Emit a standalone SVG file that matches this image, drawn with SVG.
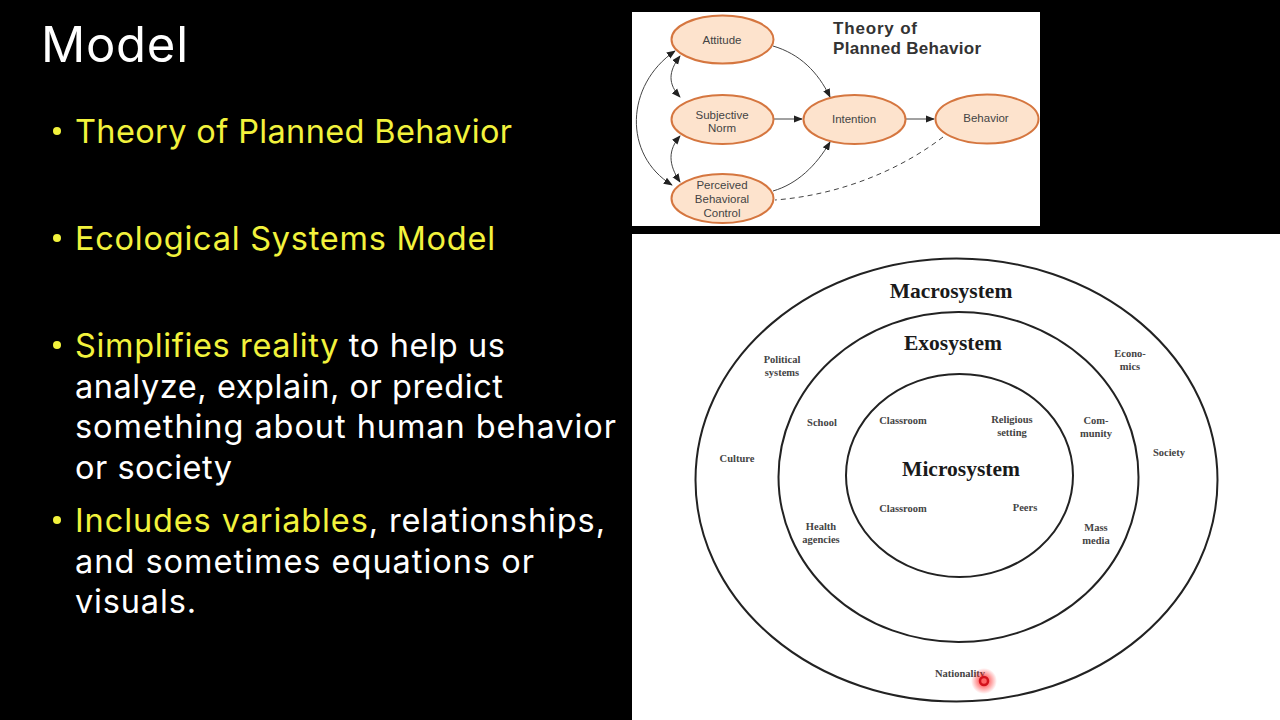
<svg xmlns="http://www.w3.org/2000/svg" width="1280" height="720" viewBox="0 0 1280 720">
<style>
.s{font-family:"Inter","Noto Sans",sans-serif;font-size:32.5px;fill:#fff}
.y{fill:#f2f23c}
.n{fill:#fde3cd;stroke:#d5763f;stroke-width:2}
.t{font-family:"Liberation Sans",Arial,sans-serif;font-size:11.5px;fill:#444;text-anchor:middle}
.c{fill:none;stroke:#444;stroke-width:1}
.r{fill:none;stroke:#222;stroke-width:2}
.e{font-family:"Liberation Serif","Times New Roman",serif;font-size:10.5px;fill:#444;text-anchor:middle;font-weight:bold}
.h{font-family:"Liberation Serif","Times New Roman",serif;font-size:21.5px;fill:#1a1a1a;text-anchor:middle;font-weight:bold}
</style>
<defs>
<marker id="a" viewBox="0 0 10 10" refX="9" refY="5" markerWidth="9" markerHeight="9" markerUnits="userSpaceOnUse" orient="auto-start-reverse"><path d="M0 1L10 5L0 9z" fill="#222"/></marker>
<radialGradient id="g"><stop offset="0.3" stop-color="#f22" stop-opacity=".7"/><stop offset="1" stop-color="#f22" stop-opacity="0"/></radialGradient>
</defs>
<rect width="1280" height="720" fill="#000"/>
<g id="slide-text">
<text x="41" y="62" font-family="Inter,Noto Sans,sans-serif" font-size="49" fill="#fff" textLength="147">Model</text>
<g fill="#f2f23c"><circle cx="57" cy="131" r="4"/><circle cx="57" cy="238" r="4"/><circle cx="57" cy="345" r="4"/><circle cx="57" cy="520" r="4"/></g>
<g class="s">
<text x="75" y="143" class="y" textLength="437">Theory of Planned Behavior</text>
<text x="75" y="250" class="y" textLength="420">Ecological Systems Model</text>
<text x="75" y="357" textLength="430"><tspan class="y">Simplifies reality</tspan> to help us</text>
<text x="75" y="398" textLength="428">analyze, explain, or predict</text>
<text x="75" y="438" textLength="541">something about human behavior</text>
<text x="75" y="479" textLength="157">or society</text>
<text x="75" y="532" textLength="530"><tspan class="y">Includes variables</tspan>, relationships,</text>
<text x="75" y="573" textLength="459">and sometimes equations or</text>
<text x="75" y="613" textLength="121">visuals.</text>
</g>
</g>
<rect x="632" y="12" width="408" height="214" fill="#fff"/>
<rect x="632" y="234" width="648" height="486" fill="#fff"/>
<g id="tpb-title" font-family="Liberation Sans,Arial,sans-serif" font-size="17" font-weight="bold" fill="#333">
<text x="833" y="34" textLength="84">Theory of</text>
<text x="833" y="54" textLength="148">Planned Behavior</text>
</g>
<g id="connectors">
<path class="c" d="M773 46C800 54 818 72 830 97" marker-end="url(#a)"/>
<path class="c" d="M774 119H802" marker-end="url(#a)"/>
<path class="c" d="M906 119H934" marker-end="url(#a)"/>
<path class="c" d="M773 191C797 184 816 166 830 142" marker-end="url(#a)"/>
<path class="c" d="M943 137C900 170 840 195 775 200" stroke-dasharray="5 4"/>
<path class="c" d="M680 56C668 72 668 84 680 97" marker-start="url(#a)" marker-end="url(#a)"/>
<path class="c" d="M680 136C668 150 668 164 680 182" marker-start="url(#a)" marker-end="url(#a)"/>
<path class="c" d="M675 51C625 85 623 155 672 185" marker-start="url(#a)" marker-end="url(#a)"/>
</g>
<g id="attitude"><ellipse class="n" cx="722.5" cy="39.5" rx="51" ry="24"/><text class="t" x="722" y="44">Attitude</text></g>
<g id="subjective-norm"><ellipse class="n" cx="722.5" cy="119.5" rx="51" ry="24.5"/><text class="t" x="722" y="119">Subjective</text><text class="t" x="722" y="132">Norm</text></g>
<g id="perceived-control"><ellipse class="n" cx="722.5" cy="198.5" rx="51" ry="24.5"/><text class="t" x="722" y="189">Perceived</text><text class="t" x="722" y="203">Behavioral</text><text class="t" x="722" y="217">Control</text></g>
<g id="intention"><ellipse class="n" cx="854.5" cy="119.5" rx="51" ry="24.5"/><text class="t" x="854" y="123">Intention</text></g>
<g id="behavior"><ellipse class="n" cx="987" cy="119" rx="51.5" ry="24.5"/><text class="t" x="986" y="122">Behavior</text></g>
<g id="macrosystem"><ellipse class="r" cx="956.5" cy="480" rx="261" ry="221.5"/><text class="h" x="951" y="298">Macrosystem</text>
<text class="e" x="782" y="363">Political</text><text class="e" x="782" y="376">systems</text>
<text class="e" x="737" y="462">Culture</text>
<text class="e" x="1130" y="357">Econo-</text><text class="e" x="1130" y="370">mics</text>
<text class="e" x="1169" y="456">Society</text>
<text class="e" x="960" y="677">Nationality</text></g>
<g id="exosystem"><ellipse class="r" cx="958.5" cy="477" rx="180" ry="165"/><text class="h" x="953" y="350">Exosystem</text>
<text class="e" x="822" y="426">School</text>
<text class="e" x="1096" y="424">Com-</text><text class="e" x="1096" y="437">munity</text>
<text class="e" x="821" y="530">Health</text><text class="e" x="821" y="543">agencies</text>
<text class="e" x="1096" y="531">Mass</text><text class="e" x="1096" y="544">media</text></g>
<g id="microsystem"><ellipse class="r" cx="959.5" cy="475.5" rx="113.5" ry="101.5"/><text class="h" x="961" y="476">Microsystem</text>
<text class="e" x="903" y="424">Classroom</text>
<text class="e" x="1012" y="423">Religious</text><text class="e" x="1012" y="436">setting</text>
<text class="e" x="903" y="512">Classroom</text>
<text class="e" x="1025" y="511">Peers</text></g>
<g id="pointer"><circle cx="984" cy="681" r="13" fill="url(#g)"/><circle cx="984" cy="681" r="4" fill="none" stroke="#d3121c" stroke-width="2.5"/></g>
</svg>
